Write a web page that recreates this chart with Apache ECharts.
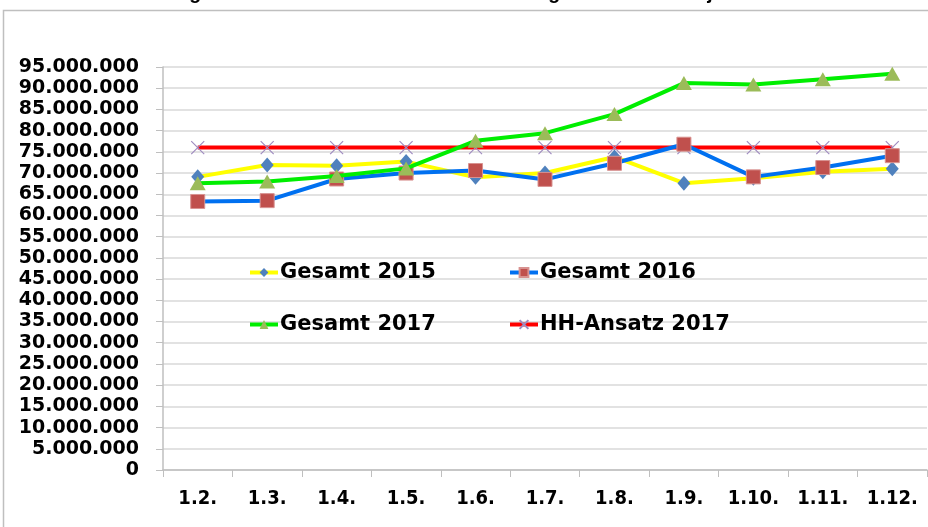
<!DOCTYPE html>
<html><head><meta charset="utf-8">
<script src="https://cdn.jsdelivr.net/npm/echarts@6/dist/echarts.min.js"></script>
<style>html,body{margin:0;padding:0;background:#fff}#c{width:928px;height:527px}</style>
</head><body><div id="c"></div>
<script>
const titleText = 'Entwicklung der Gewerbesteuereinnahmen im Vergleich zu den Vorjahren';
const categories = ['1.2.','1.3.','1.4.','1.5.','1.6.','1.7.','1.8.','1.9.','1.10.','1.11.','1.12.'];
const gesamt2015 = [69100000,71900000,71700000,72700000,69000000,70000000,73800000,67600000,68800000,70300000,71000000];
const gesamt2016 = [63300000,63500000,68600000,70000000,70600000,68500000,72300000,76800000,69100000,71300000,74100000];
const gesamt2017 = [67600000,68000000,69300000,71100000,77600000,79400000,83900000,91200000,90900000,92100000,93400000];
const hhAnsatz2017 = [76000000,76000000,76000000,76000000,76000000,76000000,76000000,76000000,76000000,76000000,76000000];
const seriesNames = ['Gesamt 2015','Gesamt 2016','Gesamt 2017','HH-Ansatz 2017'];

function fmt(v){
  const s = String(Math.round(v));
  return s.replace(/\B(?=(\d{3})+(?!\d))/g,'.');
}
const chart = echarts.init(document.getElementById('c'), null, {renderer:'canvas'});
const crossPath = 'path://M0,0L10,10M10,0L0,10';
const legendFont = {fontFamily:'DejaVu Sans', fontWeight:'bold', fontSize:21, color:'#000'};
function leg(name, left, top){
  return {data:[name], left:left, top:top, itemWidth:28, itemHeight:11, itemGap:0, padding:0,
    lineStyle:{width:4},
    textStyle:Object.assign({padding:[0,0,0,-3]}, legendFont), selectedMode:false};
}
chart.setOption({
  animation:false,
  backgroundColor:'#fff',
  title:{text:titleText, left:82, top:-21, textStyle:{fontFamily:'Liberation Sans', fontWeight:'bold', fontSize:19.4, color:'#000'}},
  graphic:[{type:'rect', shape:{x:3.5,y:10.5,width:940,height:540}, style:{fill:'none', stroke:'#BFBFBF', lineWidth:1.5}, z:-1}],
  legend:[leg(seriesNames[0],248,262), leg(seriesNames[1],508,262), leg(seriesNames[2],248,314), leg(seriesNames[3],508,314)],
  grid:{left:163, right:1, top:67, bottom:57, containLabel:false},
  xAxis:{type:'category', data:categories, boundaryGap:true,
    axisLine:{lineStyle:{color:'#BFBFBF', width:1.5}},
    axisTick:{show:true, length:7, lineStyle:{color:'#BFBFBF'}},
    axisLabel:{margin:19, fontFamily:'DejaVu Sans Condensed', fontWeight:'bold', fontSize:20, color:'#000'}},
  yAxis:{type:'value', min:0, max:95000000, interval:5000000,
    axisLine:{show:true, lineStyle:{color:'#BFBFBF', width:1.5}},
    axisTick:{show:true, length:7, lineStyle:{color:'#BFBFBF'}},
    splitLine:{lineStyle:{color:'#D9D9D9', width:1.5}},
    axisLabel:{margin:24, formatter:fmt, fontFamily:'DejaVu Sans', fontWeight:'bold', fontSize:19, color:'#000'}},
  series:[
    {name:seriesNames[0], type:'line', data:gesamt2015, symbol:'diamond', symbolSize:[13,15],
      lineStyle:{color:'#FFFF00', width:4}, itemStyle:{color:'#4F81BD'}, z:2},
    {name:seriesNames[1], type:'line', data:gesamt2016, symbol:'rect', symbolSize:14,
      lineStyle:{color:'#0070F0', width:4}, itemStyle:{color:'#C0504D', borderColor:'#D89290', borderWidth:1}, z:3},
    {name:seriesNames[2], type:'line', data:gesamt2017, symbol:'triangle', symbolSize:[16,14],
      lineStyle:{color:'#00EE00', width:4}, itemStyle:{color:'#9BBB59'}, z:4},
    {name:seriesNames[3], type:'line', data:hhAnsatz2017, symbol:crossPath, symbolSize:13,
      lineStyle:{color:'#FF0000', width:4}, itemStyle:{color:'#A08CC0', borderColor:'#A08CC0', borderWidth:1.2}, z:1}
  ]
});
</script></body></html>
